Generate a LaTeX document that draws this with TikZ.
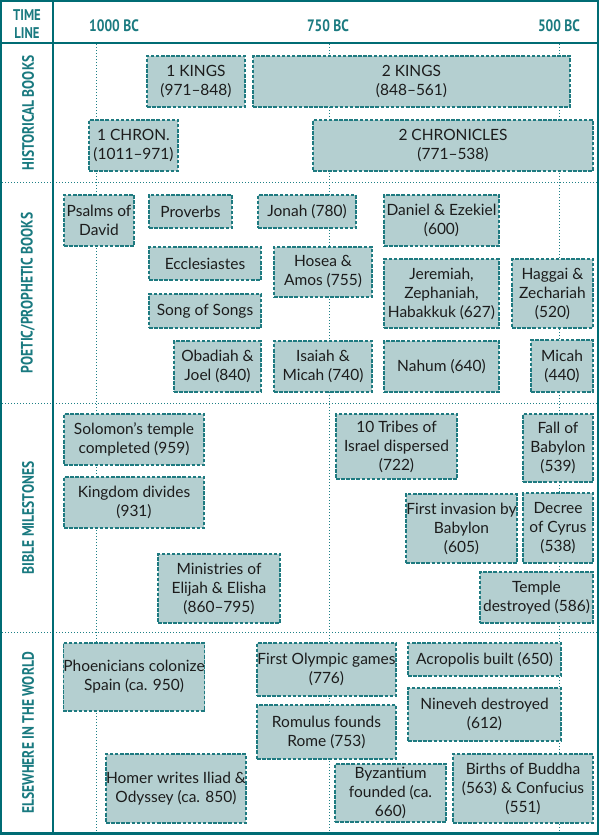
\documentclass[tikz,border=0pt]{standalone}
\usepackage{fontspec}
\setmainfont{Lato}
\newfontfamily\hdrfont[FakeStretch=0.82]{PT Sans}
\definecolor{frame}{RGB}{0,108,116}
\definecolor{hdr}{RGB}{26,122,128}
\definecolor{boxfill}{RGB}{180,207,208}
\definecolor{boxline}{RGB}{30,122,128}
\definecolor{dotline}{RGB}{30,128,134}
\definecolor{ink}{RGB}{28,28,28}
\tikzset{
  evt/.style={draw=boxline, fill=boxfill, line width=1.3pt, dash pattern=on 3.5pt off 1.6pt,
    inner sep=0pt, align=center, text=ink, font=\fontsize{15.5}{19}\selectfont},
  sectlbl/.style={text=hdr, font=\hdrfont\bfseries\fontsize{16.5}{16.5}\selectfont, inner sep=0pt},
  toplbl/.style={text=hdr, font=\hdrfont\bfseries\fontsize{16.5}{18}\selectfont, inner sep=0pt, align=center},
  dotted line/.style={draw=dotline, line width=1pt, dash pattern=on 1pt off 2pt},
  frameline/.style={draw=frame, line width=2.2pt}
}
\newcommand\evt[6]{\node[evt, minimum width={#4-#2}, minimum height={#5-#3}] (#1) at ({(#2+#4)/2},{(#3+#5)/2}) {#6};}
\begin{document}
\begin{tikzpicture}[x=1pt,y=-1pt]
\fill[white] (0,0) rectangle (600,835);
\useasboundingbox (0,0) rectangle (600,835);
% timeline lines
\coordinate (a1) at (96,44); \coordinate (a2) at (96,832);
\coordinate (b1) at (329,44); \coordinate (b2) at (329,832);
\coordinate (c1) at (559,44); \coordinate (c2) at (559,832);
\draw[dotted line] (a1) -- (a2);
\draw[dotted line] (b1) -- (b2);
\draw[dotted line] (c1) -- (c2);
% section dividers
\coordinate (s1l) at (2,182); \coordinate (s1r) at (597,182);
\coordinate (s2l) at (2,403); \coordinate (s2r) at (597,403);
\coordinate (s3l) at (2,632); \coordinate (s3r) at (597,632);
\draw[dotted line] (s1l) -- (s1r);
\draw[dotted line] (s2l) -- (s2r);
\draw[dotted line] (s3l) -- (s3r);
% header
\node[toplbl, font=\hdrfont\bfseries\fontsize{15.5}{18}\selectfont] (tl) at (27,24.5) {TIME\\LINE};
\node[toplbl] (h1000) at (114,26) {1000 BC};
\node[toplbl] (h750) at (328,26) {750 BC};
\node[toplbl] (h500) at (559,26) {500 BC};
% section labels
\node[sectlbl, rotate=90] (lhist) at (28,113) {HISTORICAL BOOKS};
\node[sectlbl, rotate=90] (lpoet) at (28,293) {POETIC/PROPHETIC BOOKS};
\node[sectlbl, rotate=90] (lmile) at (28,518) {BIBLE MILESTONES};
\node[sectlbl, rotate=90] (lworld) at (28,733) {ELSEWHERE IN THE WORLD};
% historical
\evt{kings1}{147}{56}{245}{107}{1 KINGS\\(971–848)}
\evt{kings2}{253}{56}{570}{107}{2 KINGS\\(848–561)}
\evt{chron1}{89}{120}{178}{171}{1 CHRON.\\(1011–971)}
\evt{chron2}{313}{120}{593}{171}{2 CHRONICLES\\(771–538)}
% poetic
\evt{psalms}{64}{195}{134}{246}{Psalms of\\David}
\evt{prov}{149}{195}{232}{228}{Proverbs}
\evt{jonah}{258}{195}{356}{228}{Jonah (780)}
\evt{daniel}{384}{195}{499}{246}{Daniel \& Ezekiel\\(600)}
\evt{eccl}{149}{247}{261}{280}{Ecclesiastes}
\evt{hosea}{274}{247}{372}{297}{Hosea \&\\Amos (755)}
\evt{jer}{384}{259}{499}{328}{Jeremiah,\\Zephaniah,\\Habakkuk (627)}
\evt{haggai}{512}{259}{593}{328}{Haggai \&\\Zechariah\\(520)}
\evt{song}{149}{294}{261}{328}{Song of Songs}
\evt{obad}{174}{341}{261}{392}{Obadiah \&\\Joel (840)}
\evt{isaiah}{274}{341}{372}{392}{Isaiah \&\\Micah (740)}
\evt{nahum}{384}{341}{499}{392}{Nahum (640)}
\evt{micah}{531}{340}{593}{392}{Micah\\(440)}
% milestones
\evt{solomon}{64}{414}{204}{465}{Solomon’s temple\\completed (959)}
\evt{kingdom}{64}{477}{204}{528}{Kingdom divides\\(931)}
\evt{elijah}{158}{554}{280}{623}{Ministries of\\Elijah \& Elisha\\(860–795)}
\evt{tribes}{336}{414}{457}{479}{10 Tribes of\\Israel dispersed\\(722)}
\evt{fall}{523}{414}{593}{482}{Fall of\\Babylon\\(539)}
\evt{invasion}{406}{494}{517}{563}{First invasion by\\Babylon\\(605)}
\evt{decree}{523}{493}{593}{563}{Decree\\of Cyrus\\(538)}
\evt{temple}{480}{572}{593}{623}{Temple\\destroyed (586)}
% world
\evt{phoen}{64}{643}{204}{711}{Phoenicians colonize\\Spain (ca. 950)}
\evt{olymp}{257}{643}{396}{696}{First Olympic games\\(776)}
\evt{acrop}{408}{643}{561}{676}{Acropolis built (650)}
\evt{romulus}{257}{705}{396}{759}{Romulus founds\\Rome (753)}
\evt{nineveh}{408}{688}{561}{741}{Nineveh destroyed\\(612)}
\evt{homer}{106}{754}{246}{823}{Homer writes Iliad \&\\Odyssey (ca. 850)}
\evt{byz}{335}{764}{446}{822}{Byzantium\\founded (ca.\\660)}
\evt{buddha}{453}{754}{593}{823}{Births of Buddha\\(563) \& Confucius\\(551)}
% frame
\coordinate (f1) at (1.2,1.2); \coordinate (f2) at (598,833.5);
\draw[frameline] (f1) rectangle (f2);
\coordinate (v1) at (53,0); \coordinate (v2) at (53,835);
\draw[frameline, line width=2pt] (v1) -- (v2);
\coordinate (hl) at (0,43); \coordinate (hr) at (598,43);
\draw[frameline, line width=2pt] (hl) -- (hr);
\end{tikzpicture}
\end{document}
